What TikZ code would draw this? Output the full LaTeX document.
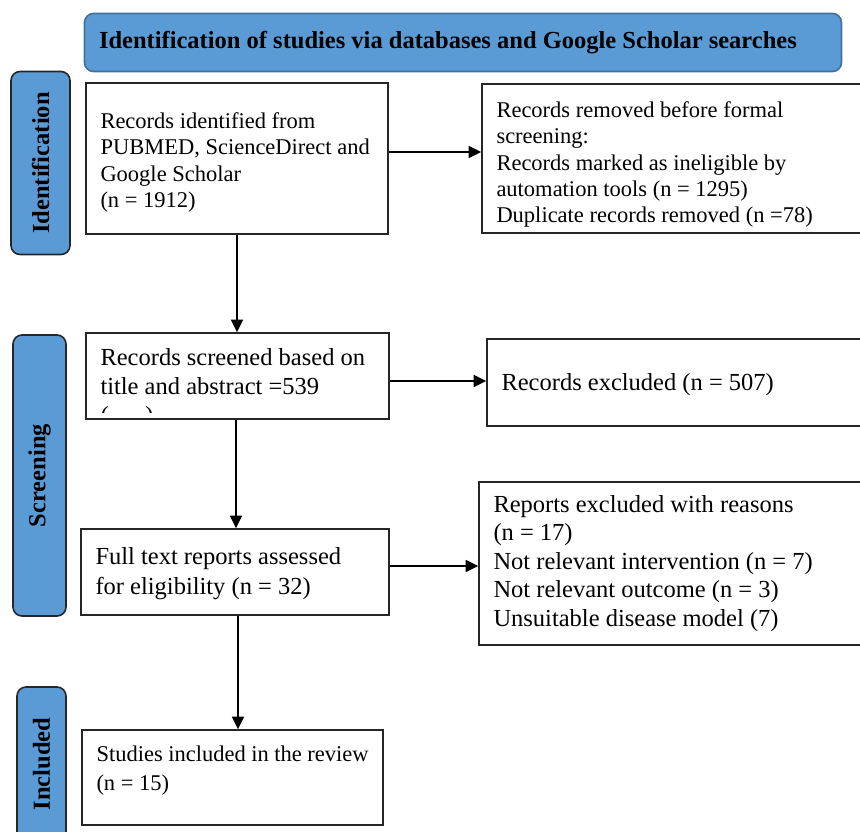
\documentclass[tikz,border=0pt]{standalone}
\usepackage{fontspec}
\setmainfont{Liberation Serif}
\usetikzlibrary{positioning,arrows.meta}

\definecolor{stageblue}{HTML}{5B9BD5}
\definecolor{stageedge}{HTML}{41719C}

% invisible struts that push the lines of a box up or down
\newcommand{\lift}[1]{\rule{0pt}{#1}}
\newcommand{\sink}[1]{\rule[-#1]{0pt}{#1}}

\tikzset{
	recbox/.style={draw=black!85, line width=1.6pt, align=flush left, inner xsep=14.5pt, inner ysep=0pt, font=\fontsize{24.5}{28.5}\selectfont},
	narrowtext/.style={font=\fontsize{22.5}{26.3}\selectfont},
	stage/.style={draw=black!85, fill=stageblue, line width=1.6pt, rounded corners=9pt, rotate=90, inner sep=0pt, font=\bfseries\fontsize{24.5}{27.5}\selectfont},
	flow/.style={line width=1.6pt, -{Triangle[length=12.5pt,width=12pt]}}
}

\begin{document}
\begin{tikzpicture}[x=1pt,y=-1pt]
	\useasboundingbox (0,0) rectangle (860,831);

	\node[recbox, draw=stageedge, fill=stageblue, rounded corners=9pt, minimum height=58pt, text width=728pt, font=\bfseries\fontsize{24.5}{27.5}\selectfont] (head) at (463,42.5) {Identification of studies via databases and Google Scholar searches};

	\node[stage, minimum width=183pt, minimum height=59pt] (ident) at (40.5,163) {Identification};
	\node[stage, minimum width=281pt, minimum height=53pt] (screen) at (39.5,475.5) {Screening};
	\node[stage, minimum width=154pt, minimum height=49pt] (incl) at (41.5,764) {Included};

	\node[recbox, narrowtext, minimum height=151pt, text width=273pt] (found) at (237,158.5) {\lift{23.7pt}Records identified from\\PUBMED, ScienceDirect and\\Google Scholar\\(n = 1912)};
	\node[recbox, narrowtext, minimum height=149pt, text width=359pt] (removed) at (676,158.5) {\lift{28pt}Records removed before formal\\screening:\\Records marked as ineligible by\\automation tools (n = 1295)\\Duplicate records removed (n =78)};
	\node[recbox, font=\fontsize{24.5}{29}\selectfont, minimum height=86pt, text width=274pt] (screened) at (237.5,376) {Records screened based on\\title and abstract =539\sink{9.4pt}};
	\node[recbox, minimum height=87pt, text width=354pt] (excluded) at (678.5,382.5) {\lift{21.2pt}Records excluded (n = 507)};
	\node[recbox, font=\fontsize{24.5}{30}\selectfont, minimum height=86pt, text width=279pt] (assessed) at (235,572) {\lift{21.2pt}Full text reports assessed\\for eligibility (n = 32)};
	\node[recbox, minimum height=163pt, text width=362pt] (reports) at (674.5,563.5) {Reports excluded with reasons\\(n = 17)\\Not relevant intervention (n = 7)\\Not relevant outcome (n = 3)\\Unsuitable disease model (7)};
	\node[recbox, font=\fontsize{22.5}{28.3}\selectfont, minimum height=95pt, text width=272pt] (included) at (232.5,777.5) {Studies included in the review\\(n = 15)\sink{18.7pt}};

	\begin{scope}
		\clip (screened.north west) rectangle ([yshift=7pt]screened.south east);
		\node[recbox, draw=none, anchor=base west] (cutoff) at (screened.west |- 0,423) {(\hspace{1.5em})};
	\end{scope}

	\draw[flow] ([yshift=6.5pt]found.east) -- ([yshift=6.5pt]found.east -| removed.west);
	\draw[flow] (found.south) -- (found.south |- screened.north);
	\draw[flow] ([yshift=-5pt]screened.east) -- ([yshift=-5pt]screened.east -| excluded.west);
	\draw[flow] ([xshift=-1.5pt]screened.south) -- ([xshift=-1.5pt]screened.south |- assessed.north);
	\draw[flow] ([yshift=6pt]assessed.east) -- ([yshift=6pt]assessed.east -| reports.west);
	\draw[flow] ([xshift=3pt]assessed.south) -- ([xshift=3pt]assessed.south |- included.north);
\end{tikzpicture}
\end{document}
